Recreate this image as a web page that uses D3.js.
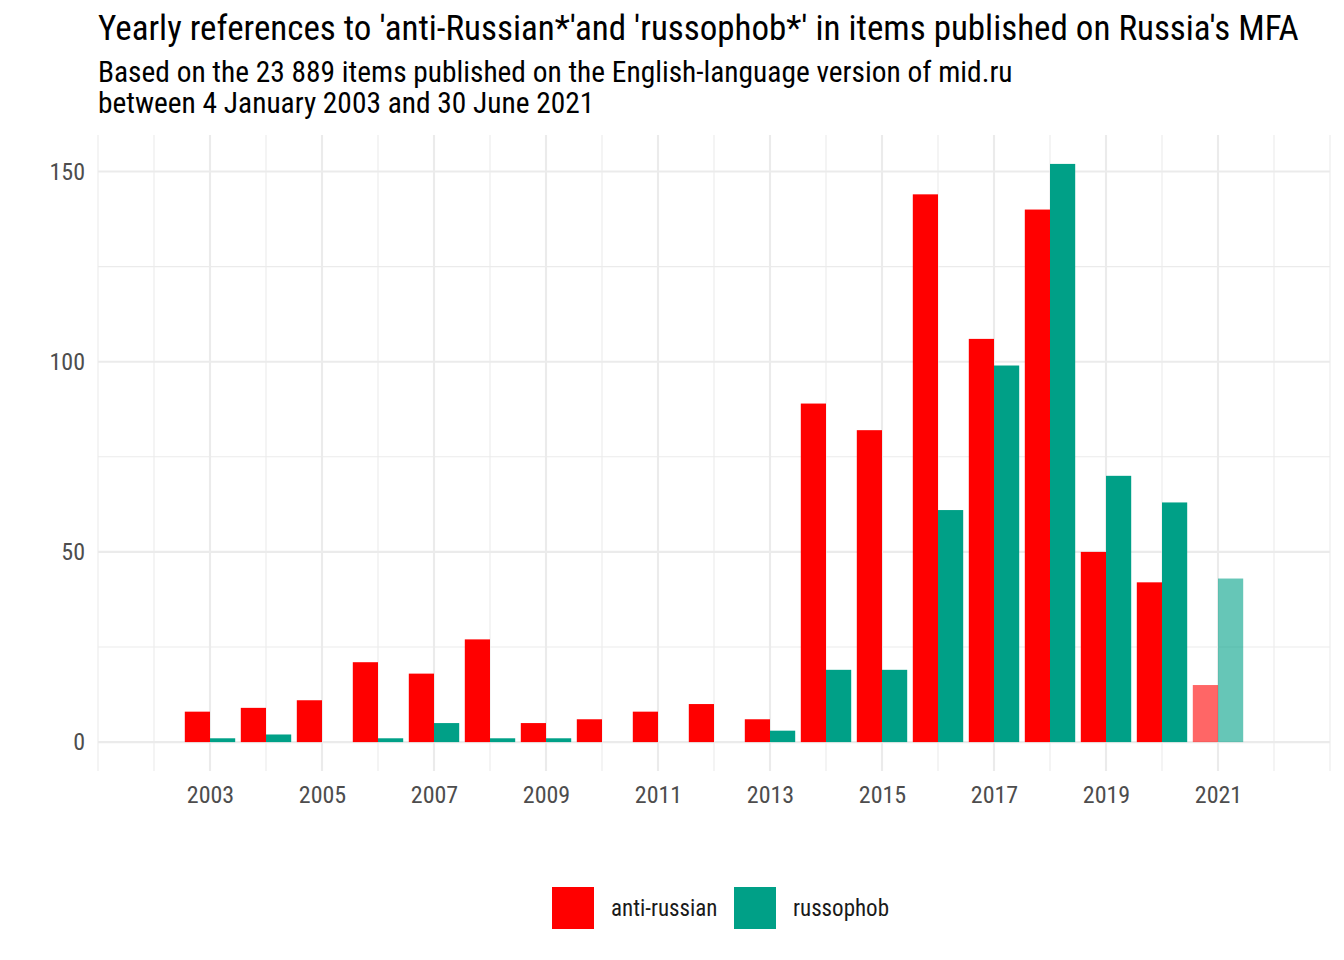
<!DOCTYPE html>
<html>
<head>
<meta charset="utf-8">
<script src="https://cdn.jsdelivr.net/npm/d3@7"></script>
<style>
  body { margin: 0; background: #fff; }
  text { font-family: "Roboto Condensed", "Liberation Sans Narrow", "Roboto", sans-serif; }
</style>
</head>
<body>
<div id="chart"></div>
<script>
// data
var years = [2003, 2004, 2005, 2006, 2007, 2008, 2009, 2010, 2011, 2012,
             2013, 2014, 2015, 2016, 2017, 2018, 2019, 2020, 2021];
var antiRussian = [8, 9, 11, 21, 18, 27, 5, 6, 8, 10, 6, 89, 82, 144, 106, 140, 50, 42, 15];
var russophob   = [1, 2, 0, 1, 5, 1, 1, 0, 0, 0, 3, 19, 19, 61, 99, 152, 70, 63, 43];
var seriesNames = ["anti-russian", "russophob"];
var seriesColors = ["#FF0000", "#00A087"];
var xTicks = [2003, 2005, 2007, 2009, 2011, 2013, 2015, 2017, 2019, 2021];
var yTicks = [0, 50, 100, 150];
var partialYear = 2021;

var W = 1344, H = 960;
var margin = {top: 135, right: 14, bottom: 189, left: 98};

var svg = d3.select("#chart").append("svg")
  .attr("width", W).attr("height", H);

// scales
var x = d3.scaleLinear().domain([2001, 2023]).range([margin.left, W - margin.right]);
var yMax = d3.max(antiRussian.concat(russophob));
var y = d3.scaleLinear().domain([-yMax * 0.05, yMax * 1.05]).range([H - margin.bottom, margin.top]);

var grid = svg.append("g");

// minor grid
var xMinor = d3.range(2001, 2024).filter(function(d) { return xTicks.indexOf(d) < 0; });
grid.selectAll(".xminor").data(xMinor).enter().append("line")
  .attr("x1", function(d) { return x(d); }).attr("x2", function(d) { return x(d); })
  .attr("y1", margin.top).attr("y2", H - margin.bottom)
  .attr("stroke", "#EBEBEB").attr("stroke-width", 1.1);
grid.selectAll(".yminor").data([25, 75, 125]).enter().append("line")
  .attr("x1", margin.left).attr("x2", W - margin.right)
  .attr("y1", function(d) { return y(d); }).attr("y2", function(d) { return y(d); })
  .attr("stroke", "#EBEBEB").attr("stroke-width", 1.1);

// major grid
grid.selectAll(".xmajor").data(xTicks).enter().append("line")
  .attr("x1", function(d) { return x(d); }).attr("x2", function(d) { return x(d); })
  .attr("y1", margin.top).attr("y2", H - margin.bottom)
  .attr("stroke", "#EBEBEB").attr("stroke-width", 2.1);
grid.selectAll(".ymajor").data(yTicks).enter().append("line")
  .attr("x1", margin.left).attr("x2", W - margin.right)
  .attr("y1", function(d) { return y(d); }).attr("y2", function(d) { return y(d); })
  .attr("stroke", "#EBEBEB").attr("stroke-width", 2.1);

// bars (dodged, width 0.9)
var band = d3.scaleBand().domain(seriesNames).range([-0.45, 0.45]);
var rows = [];
years.forEach(function(yr, i) {
  rows.push({year: yr, series: seriesNames[0], value: antiRussian[i]});
  rows.push({year: yr, series: seriesNames[1], value: russophob[i]});
});
svg.append("g").selectAll("rect").data(rows).enter().append("rect")
  .attr("x", function(d) { return x(d.year + band(d.series)); })
  .attr("width", function(d) { return x(d.year + band.bandwidth()) - x(d.year); })
  .attr("y", function(d) { return y(d.value); })
  .attr("height", function(d) { return y(0) - y(d.value); })
  .attr("fill", function(d) { return seriesColors[seriesNames.indexOf(d.series)]; })
  .attr("fill-opacity", function(d) { return d.year === partialYear ? 0.6 : 1; });

// axes
var xAxis = svg.append("g")
  .attr("transform", "translate(0," + (H - margin.bottom) + ")")
  .call(d3.axisBottom(x).tickValues(xTicks).tickFormat(d3.format("d")).tickSize(0).tickPadding(15));
var yAxis = svg.append("g")
  .attr("transform", "translate(" + margin.left + ",0)")
  .call(d3.axisLeft(y).tickValues(yTicks).tickSize(0).tickPadding(13));
[xAxis, yAxis].forEach(function(a) {
  a.select(".domain").remove();
  a.selectAll("text")
    .style("font-family", "'Roboto Condensed', 'Liberation Sans Narrow', Roboto, sans-serif")
    .style("font-size", "24px").attr("fill", "#4D4D4D");
});

// titles
svg.append("text").attr("x", 98).attr("y", 40)
  .style("font-size", "35px").attr("fill", "#000")
  .text("Yearly references to 'anti-Russian*'and 'russophob*' in items published on Russia's MFA");
svg.append("text").attr("x", 98).attr("y", 82)
  .style("font-size", "29.4px").attr("fill", "#000")
  .text("Based on the 23 889 items published on the English-language version of mid.ru");
svg.append("text").attr("x", 98).attr("y", 113)
  .style("font-size", "29.4px").attr("fill", "#000")
  .text("between 4 January 2003 and 30 June 2021");

// legend
var legend = svg.append("g");
var legX = [552, 734];
seriesNames.forEach(function(name, i) {
  legend.append("rect").attr("x", legX[i]).attr("y", 887)
    .attr("width", 42).attr("height", 42).attr("fill", seriesColors[i]);
  legend.append("text").attr("x", legX[i] + 59).attr("y", 908)
    .attr("dy", "0.35em").style("font-size", "23px").attr("fill", "#1A1A1A")
    .text(name);
});
</script>
</body>
</html>
